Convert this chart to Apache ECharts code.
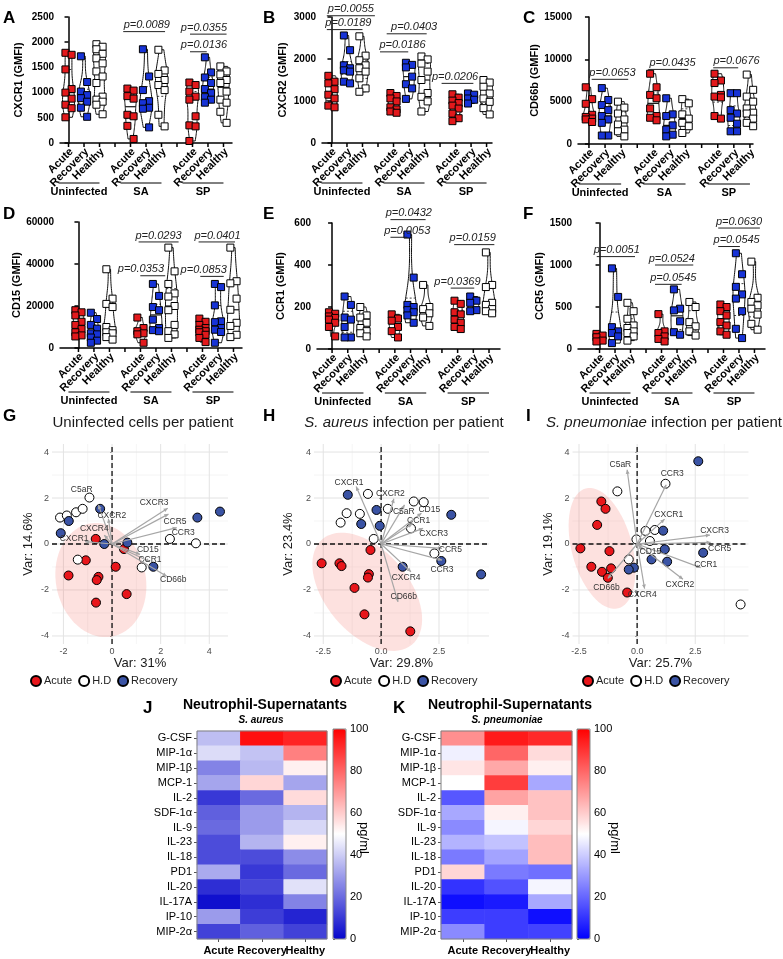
<!DOCTYPE html>
<html>
<head>
<meta charset="utf-8">
<script src="https://cdn.jsdelivr.net/npm/echarts@6/dist/echarts.min.js"></script>
<style>
  html, body { margin: 0; padding: 0; background: #fff; }
  #chart { width: 783px; height: 959px; }
</style>
</head>
<body>
<div id="chart"></div>
<script>
// ---- violin panels: [acute, recovery, healthy] per condition ----
const catLabels = ['Acute', 'Recovery', 'Healthy', '', 'Acute', 'Recovery', 'Healthy', '', 'Acute', 'Recovery', 'Healthy']
const conditionNames = ['Uninfected', 'SA', 'SP']

const cxcr1Uninfected = [[1790, 1750, 1460, 1070, 1000, 880, 760, 690, 510], [1720, 1210, 1020, 950, 890, 820, 700, 520], [1960, 1910, 1860, 1770, 1680, 1580, 1420, 1320, 1190, 920, 860, 820, 760, 570]]
const cxcr1SA = [[1080, 1040, 930, 880, 560, 530, 340, 80], [1860, 1320, 1050, 830, 790, 700, 680, 310], [1850, 1440, 1370, 1250, 1150, 1050, 560, 330]]
const cxcr1SP = [[1200, 1150, 1020, 920, 860, 530, 350, 330, 40], [1700, 1400, 1300, 1190, 1070, 990, 910, 860, 800], [1520, 1420, 1360, 1250, 1190, 1020, 860, 800, 620, 400]]
// [from, to, y, label, label centre] in category units
const cxcr1Pvals = [[3.53, 6.23, 2210, 'p=0.0089', 5.05], [7.84, 10.2, 2160, 'p=0.0355', 8.74], [7.84, 8.92, 1810, 'p=0.0136', 8.74]]

const cxcr2Uninfected = [[1600, 1460, 1420, 1280, 1150, 1060, 890, 850], [2560, 2210, 1850, 1780, 1730, 1700, 1460, 1420], [2540, 2080, 1970, 1850, 1780, 1700, 1540, 1300, 1220]]
const cxcr2SA = [[1190, 1120, 1060, 990, 850, 800, 750, 720], [1910, 1860, 1800, 1580, 1400, 1300, 1050], [2060, 1990, 1890, 1700, 1500, 1190, 1100, 990, 750]]
const cxcr2SP = [[1160, 1080, 1010, 950, 890, 820, 700, 590, 520], [1180, 1150, 1060, 1030, 940], [1500, 1440, 1340, 1180, 1060, 980, 830, 680]]
const cxcr2Pvals = [[-0.3, 2.8, 3030, 'p=0.0055', 1.25], [-0.3, 2.0, 2700, 'p=0.0189', 1.09], [3.56, 6.14, 2600, 'p=0.0403', 5.33], [3.13, 4.95, 2170, 'p=0.0186', 4.58], [7.1, 9.15, 1420, 'p=0.0206', 7.97]]

const cd66bUninfected = [[6700, 5300, 4750, 3450, 3200, 3000, 2900, 2600], [6600, 5200, 4600, 4000, 3300, 2900, 2500, 1000, 1000], [5000, 4300, 3600, 2900, 2300, 1700, 1500, 900]]
const cd66bSA = [[8300, 6700, 5800, 5400, 4200, 3300, 3100, 2800], [5400, 3500, 3300, 2200, 1700, 1100, 900], [5300, 4800, 3500, 3000, 2500, 2100, 1300]]
const cd66bSP = [[8300, 7500, 7200, 5800, 5600, 5500, 3300, 3000], [6000, 6000, 4000, 3600, 3100, 2400, 1500, 1500], [8200, 6400, 5600, 5000, 4200, 3700, 3600, 3000, 2500, 2100]]
const cd66bPvals = [[0.17, 2.44, 7640, 'p=0.0653', 1.46], [3.68, 6.17, 8810, 'p=0.0435', 5.19], [7.72, 9.27, 9000, 'p=0.0676', 9.17]]

const cd15Uninfected = [[18000, 17000, 15500, 12500, 11000, 9000, 7500, 6000, 5500], [16800, 13800, 11000, 9200, 7000, 6500, 5000, 3500, 2500], [37500, 23500, 21000, 19500, 10000, 8500, 7500, 7000, 5200, 4000]]
const cd15SA = [[14500, 9500, 8000, 7000, 6500, 2500], [30500, 24800, 19500, 18000, 13500, 9500, 8500, 8000], [47800, 36500, 30500, 26000, 24500, 20000, 18000, 11000, 8000, 6500, 4800]]
const cd15SP = [[14000, 12500, 11000, 9500, 8700, 8000, 7500, 6300, 4800, 2800], [30500, 29000, 20300, 12700, 12300, 9500, 8700, 7600, 2500], [47800, 31800, 30800, 23500, 18200, 12000, 10500, 6300, 5200]]
const cd15Pvals = [[3.88, 6.46, 50500, 'p=0.0293', 5.17], [3.99, 5.6, 34400, 'p=0.0353', 4.03], [7.75, 10.1, 50500, 'p=0.0401', 8.97], [7.86, 9.37, 34100, 'p=0.0853', 8.08]]

const ccr1Uninfected = [[175, 168, 155, 148, 140, 125, 105, 60], [250, 210, 150, 140, 105, 55, 55], [200, 160, 150, 125, 100, 85, 75, 60]]
const ccr1SA = [[165, 145, 135, 105, 85, 55], [545, 340, 210, 200, 185, 175, 160, 125], [305, 200, 190, 170, 150, 110]]
const ccr1SP = [[230, 215, 175, 165, 140, 125, 105, 95], [250, 230, 220, 185, 180], [460, 305, 295, 220, 210, 190, 180, 170]]
const ccr1Pvals = [[3.72, 5.96, 616, 'p=0.0432', 4.89], [3.72, 4.79, 532, 'p=0.0053', 4.79], [7.78, 10.34, 497, 'p=0.0159', 8.96], [7.56, 9.06, 290, 'p=0.0369', 7.99]]

const ccr5Uninfected = [[180, 160, 140, 100, 90], [960, 620, 260, 210, 190, 150, 70], [550, 450, 360, 280, 250, 210, 190, 150, 100]]
const ccr5SA = [[415, 210, 190, 150, 120, 90], [710, 480, 460, 330, 200, 170], [560, 500, 320, 270, 210, 160]]
const ccr5SP = [[530, 500, 450, 400, 320, 280, 210, 170], [1140, 890, 740, 650, 600, 450, 240, 130], [1040, 610, 560, 520, 480, 410, 300, 230]]
const ccr5Pvals = [[-0.18, 2.29, 1100, 'p=0.0051', 1.11], [3.58, 6.05, 1000, 'p=0.0524', 4.66], [3.58, 5.3, 770, 'p=0.0545', 4.76], [7.66, 10.35, 1440, 'p=0.0630', 9.0], [7.66, 9.06, 1220, 'p=0.0545', 8.85]]

// ---- PCA biplots ----
const gAcute = [[-0.67, 0.22], [0.49, -0.22], [-1.08, -0.71], [0.15, -0.99], [-1.79, -1.37], [-0.56, -1.43], [-0.63, -1.57], [0.60, -2.18], [-0.66, -2.55]]
const gHD = [[-0.93, 2.02], [-2.14, 1.15], [-1.86, 1.24], [-1.48, 1.38], [-1.21, 1.53], [-1.41, -0.68], [2.38, 0.22], [3.45, 0.03], [1.22, -1.02]]
const gRecovery = [[-0.49, 1.53], [-1.78, 1.0], [-2.11, 0.47], [-0.32, 0.0], [0.63, 0.06], [1.70, -0.99], [3.51, 1.15], [4.44, 1.41]]
const gLoadings = [['C5aR', -0.56, 1.70, -1.25, 2.36], ['CXCR2', -0.15, 1.10, -0.01, 1.24], ['CXCR3', 2.29, 1.56, 1.73, 1.78], ['CCR5', 2.32, 1.30, 2.59, 0.98], ['CCR3', 2.66, 0.71, 2.93, 0.51], ['CXCR4', -0.32, 0.39, -0.73, 0.68], ['CXCR1', -1.11, 0.10, -1.56, 0.22], ['CD15', 1.15, -0.45, 1.47, -0.26], ['CCR1', 1.56, -0.77, 1.56, -0.67], ['CD66b', 2.25, -1.40, 2.52, -1.57]]
const gEllipse = [-0.46, -1.57, 2.5, 1.85, -80]

const hAcute = [[-0.46, -0.26], [-2.57, -0.84], [-1.80, -0.84], [-1.71, -0.96], [-0.53, -1.31], [-0.57, -1.46], [-1.15, -1.91], [-0.72, -3.06], [1.26, -3.80]]
const hHD = [[-0.57, 2.18], [0.29, 1.53], [1.41, 1.85], [1.84, 1.82], [-1.49, 1.34], [-0.92, 1.31], [-1.75, 0.93], [-0.32, 0.22], [1.29, 0.68], [2.30, -0.41]]
const hRecovery = [[-1.44, 2.14], [-0.20, 1.48], [-0.86, 0.87], [-0.06, 0.79], [0.93, -0.99], [2.60, -0.74], [3.03, 1.27], [4.32, -1.32]]
const hLoadings = [['CXCR1', -1.08, 2.50, -1.39, 2.65], ['CXCR2', 0.55, 1.97, 0.40, 2.17], ['C5aR', 1.01, 1.70, 0.98, 1.41], ['CD15', 1.74, 1.34, 2.08, 1.51], ['CCR1', 1.34, 0.87, 1.62, 1.0], ['CXCR3', 1.81, 0.68, 2.27, 0.47], ['CCR5', 2.63, -0.19, 2.99, -0.26], ['CCR3', 2.63, -0.70, 2.63, -1.11], ['CXCR4', 1.29, -1.21, 1.08, -1.47], ['CD66b', 0.73, -2.52, 0.98, -2.30]]
const hEllipse = [-0.6, -2.08, 3.0, 1.8, -50]

const iAcute = [[-1.54, 1.85], [-1.36, 1.53], [-1.72, 0.83], [-2.44, -0.19], [-1.19, -0.31], [-1.97, -0.99], [-1.51, -1.21], [-1.12, -1.06], [-1.26, -1.47], [-0.43, -2.11]]
const iHD = [[1.22, 2.62], [-0.85, 2.29], [0.36, 0.57], [0.76, 0.61], [-0.03, 0.20], [0.55, 0.13], [-0.36, -0.67], [4.45, -2.63]]
const iRecovery = [[2.63, 3.60], [1.12, 0.58], [1.19, -0.23], [2.84, -0.38], [0.62, -0.67], [1.29, -0.77], [-0.14, -1.03], [-0.36, -1.11]]
const iLoadings = [['C5aR', -0.43, 3.23, -0.72, 3.45], ['CCR3', 1.25, 2.58, 1.51, 3.07], ['CXCR1', 1.18, 1.08, 1.36, 1.27], ['CXCR3', 3.13, 0.39, 3.33, 0.57], ['CCR5', 3.16, 0.07, 3.55, -0.22], ['CCR1', 2.73, -1.03, 2.95, -0.89], ['CXCR2', 1.97, -1.53, 1.84, -1.79], ['CXCR4', 0.32, -1.94, 0.22, -2.20], ['CD66b', -1.26, -1.50, -1.32, -1.89], ['CD15', 0.22, -0.26, 0.57, -0.33]]
const iEllipse = [-1.51, -0.19, 2.7, 1.3, -75]

// ---- heatmaps (pg/ml) ----
const cytokines = ['G-CSF', 'MIP-1α', 'MIP-1β', 'MCP-1', 'IL-2', 'SDF-1α', 'IL-9', 'IL-23', 'IL-18', 'PD1', 'IL-20', 'IL-17A', 'IP-10', 'MIP-2α']
const heatGroups = ['Acute', 'Recovery', 'Healthy']
const saSupernatant = [[37, 97, 93], [43, 38, 75], [25, 36, 53], [32, 58, 32], [10, 20, 57], [18, 30, 35], [20, 30, 42], [14, 35, 53], [14, 14, 27], [33, 10, 20], [8, 13, 44], [2, 8, 25], [30, 11, 6], [12, 18, 12]]
const spSupernatant = [[72, 95, 92], [47, 80, 57], [55, 67, 53], [50, 88, 33], [17, 68, 62], [33, 53, 62], [27, 48, 58], [35, 38, 63], [24, 32, 63], [58, 24, 22], [10, 16, 48], [3, 5, 33], [12, 12, 3], [27, 12, 13]]

const FONT = 'Arial, "Liberation Sans", Helvetica, sans-serif'
const groupColors = ['#e3191c', '#1733d6', '#ffffff']
const pcaColors = { acute: '#e8161b', hd: '#ffffff', rec: '#3a53a4' }

const option = {
  animation: false,
  backgroundColor: '#fff',
  textStyle: { fontFamily: FONT },
  grid: [], xAxis: [], yAxis: [], series: [], legend: [], visualMap: [], graphic: [],
}

function tstyle(text, font, align, valign, fill) {
  return { text, font, align, verticalAlign: valign, textAlign: align, textVerticalAlign: valign, fill: fill || '#000' }
}

function addText(text, x, y, font, opts) {
  const o = opts || {}
  option.graphic.push({
    type: 'text', x, y, rotation: o.rotation || 0, silent: true, z: 100,
    style: Object.assign(tstyle(text, font, o.align || 'center', o.valign || 'middle', o.fill), o.rich ? { rich: o.rich } : {}),
  })
}

function makeDensity(vals) {
  const n = vals.length
  const mean = vals.reduce((a, b) => a + b, 0) / n
  const sd = Math.sqrt(vals.reduce((a, b) => a + (b - mean) * (b - mean), 0) / (n - 1)) || 1
  const bw = 0.9 * sd * Math.pow(n, -0.2)
  const raw = v => vals.reduce((s, x) => s + Math.exp(-0.5 * ((v - x) / bw) ** 2), 0)
  const lo = Math.min(...vals), hi = Math.max(...vals)
  let peak = 0
  for (let k = 0; k <= 60; k++) peak = Math.max(peak, raw(lo + (hi - lo) * k / 60))
  return { lo, hi, f: v => raw(v) / peak }
}

function quartiles(vals) {
  const s = [...vals].sort((a, b) => a - b)
  const q = p => {
    const idx = (s.length - 1) * p, i = Math.floor(idx), f = idx - i
    return s[i] + (s[Math.min(i + 1, s.length - 1)] - s[i]) * f
  }
  return [q(0.25), q(0.5), q(0.75)]
}

// ---------------- violin + scatter panels ----------------
function addViolinPanel(p) {
  const gi = option.grid.length
  const ax = { xAxisIndex: gi, yAxisIndex: gi }
  option.grid.push({ left: p.left, top: p.top, width: p.width, height: p.height })
  option.xAxis.push({
    gridIndex: gi, type: 'value', min: p.xMin, max: p.xMax,
    axisLine: { show: true, onZero: false, lineStyle: { color: '#000', width: 1.5 } },
    axisTick: { show: false }, axisLabel: { show: false }, splitLine: { show: false },
  })
  option.yAxis.push({
    gridIndex: gi, type: 'value', min: 0, max: p.yMax, interval: p.yStep,
    name: p.yName, nameLocation: 'middle', nameGap: p.nameGap,
    nameTextStyle: { fontWeight: 'bold', fontSize: 11, color: '#000' },
    axisLine: { show: true, lineStyle: { color: '#000', width: 1.5 } },
    axisTick: { show: true, length: 4, lineStyle: { color: '#000', width: 1.5 } },
    axisLabel: { fontWeight: 'bold', fontSize: 10, color: '#000', margin: 6, formatter: v => String(v) },
    splitLine: { show: false },
  })

  const groups = []
  p.sets.forEach((set, c) => set.forEach((vals, g) => groups.push({ x: c * 4 + g, vals })))

  // violins
  option.series.push(Object.assign({
    type: 'custom', clip: false, silent: true, z: 2,
    data: groups.map(g => [g.x, quartiles(g.vals)[1]]),
    renderItem: (params, api) => {
      const g = groups[params.dataIndex]
      const dens = makeDensity(g.vals)
      const W = 6, N = 40
      const right = [], left = []
      for (let k = 0; k <= N; k++) {
        const v = dens.lo + (dens.hi - dens.lo) * k / N
        const c = api.coord([g.x, v])
        const w = Math.max(0.6, W * dens.f(v))
        right.push([c[0] + w, c[1]])
        left.unshift([c[0] - w, c[1]])
      }
      const children = [{ type: 'polygon', shape: { points: right.concat(left) }, style: { fill: 'rgba(255,255,255,0)', stroke: '#111', lineWidth: 1 } }]
      quartiles(g.vals).forEach((q, k) => {
        const c = api.coord([g.x, q])
        const w = W * dens.f(q)
        children.push({ type: 'line', shape: { x1: c[0] - w, y1: c[1], x2: c[0] + w, y2: c[1] }, style: k === 1 ? { stroke: '#111', lineWidth: 1.2 } : { stroke: '#111', lineWidth: 0.8, lineDash: [2, 2] } })
      })
      return { type: 'group', children }
    },
  }, ax))

  // points
  ;[0, 1, 2].forEach(g => {
    const data = []
    p.sets.forEach((set, c) => {
      const vals = [...set[g]].sort((a, b) => b - a)
      vals.forEach((v, i) => data.push([c * 4 + g + (i % 2 ? 0.2 : -0.2), v]))
    })
    option.series.push(Object.assign({
      type: 'scatter', symbol: 'rect', symbolSize: 7, silent: true, z: 3, clip: false, data,
      itemStyle: { color: groupColors[g], borderColor: '#000', borderWidth: 1, opacity: 1 },
    }, ax))
  })

  // category ticks + rotated labels
  option.series.push(Object.assign({
    type: 'custom', clip: false, silent: true, z: 4,
    data: catLabels.map((_, i) => [i, 0]),
    renderItem: (params, api) => {
      const i = params.dataIndex
      const c = api.coord([i, 0])
      const ch = [{ type: 'line', shape: { x1: c[0], y1: c[1], x2: c[0], y2: c[1] + 4 }, style: { stroke: '#000', lineWidth: 1.5 } }]
      if (catLabels[i]) {
        ch.push({ type: 'text', x: c[0] + 3, y: c[1] + 7, rotation: Math.PI / 4, style: tstyle(catLabels[i], 'bold 11px ' + FONT, 'right', 'middle') })
      }
      return { type: 'group', children: ch }
    },
  }, ax))

  // condition underline + name
  option.series.push(Object.assign({
    type: 'custom', clip: false, silent: true, z: 4,
    data: conditionNames.map((_, k) => [k * 4, 0]),
    renderItem: (params, api) => {
      const k = params.dataIndex
      const a = api.coord([k * 4, 0]), b = api.coord([k * 4 + 2, 0])
      const x1 = a[0] - 10, x2 = b[0]
      return {
        type: 'group', children: [
          { type: 'line', shape: { x1, y1: a[1] + p.lineDy, x2, y2: a[1] + p.lineDy }, style: { stroke: '#000', lineWidth: 1 } },
          { type: 'text', x: (x1 + x2) / 2, y: a[1] + p.textDy, style: tstyle(conditionNames[k], 'bold 11px ' + FONT, 'center', 'middle') },
        ],
      }
    },
  }, ax))

  // significance brackets
  option.series.push(Object.assign({
    type: 'custom', clip: false, silent: true, z: 4,
    data: p.pvals.map(r => [r[0], r[2]]),
    renderItem: (params, api) => {
      const r = p.pvals[params.dataIndex]
      const a = api.coord([r[0], r[2]]), b = api.coord([r[1], r[2]]), t = api.coord([r[4], r[2]])
      return {
        type: 'group', children: [
          { type: 'line', shape: { x1: a[0], y1: a[1], x2: b[0], y2: b[1] }, style: { stroke: '#222', lineWidth: 1 } },
          { type: 'text', x: t[0], y: a[1] - 1, style: tstyle(r[3], 'italic 11px ' + FONT, 'center', 'bottom', '#222') },
        ],
      }
    },
  }, ax))

  addText(p.letter, p.lx, p.ly, 'bold 17px ' + FONT, { align: 'left' })
}

const violinPanels = [
  { letter: 'A', sets: [cxcr1Uninfected, cxcr1SA, cxcr1SP], pvals: cxcr1Pvals, yName: 'CXCR1 (GMFI)', yMax: 2500, yStep: 500, left: 60, top: 17, width: 172, height: 126, xMin: -0.55, xMax: 10.55, nameGap: 36, lineDy: 40, textDy: 49, lx: 3, ly: 18 },
  { letter: 'B', sets: [cxcr2Uninfected, cxcr2SA, cxcr2SP], pvals: cxcr2Pvals, yName: 'CXCR2 (GMFI)', yMax: 3000, yStep: 1000, left: 322, top: 17, width: 170, height: 126, xMin: -0.61, xMax: 10.35, nameGap: 34, lineDy: 40, textDy: 49, lx: 263, ly: 18 },
  { letter: 'C', sets: [cd66bUninfected, cd66bSA, cd66bSP], pvals: cd66bPvals, yName: 'CD66b (GMFI)', yMax: 15000, yStep: 5000, left: 578, top: 17, width: 175, height: 127, xMin: -0.68, xMax: 10.19, nameGap: 32, lineDy: 40, textDy: 49, lx: 523, ly: 18 },
  { letter: 'D', sets: [cd15Uninfected, cd15SA, cd15SP], pvals: cd15Pvals, yName: 'CD15 (GMFI)', yMax: 60000, yStep: 20000, left: 60, top: 222, width: 182, height: 126, xMin: -1.19, xMax: 10.55, nameGap: 35, lineDy: 44, textDy: 53, lx: 3, ly: 214 },
  { letter: 'E', sets: [ccr1Uninfected, ccr1SA, ccr1SP], pvals: ccr1Pvals, yName: 'CCR1 (GMFI)', yMax: 600, yStep: 200, left: 317, top: 223, width: 183, height: 126, xMin: -0.96, xMax: 10.7, nameGap: 31, lineDy: 44, textDy: 53, lx: 263, ly: 214 },
  { letter: 'F', sets: [ccr5Uninfected, ccr5SA, ccr5SP], pvals: ccr5Pvals, yName: 'CCR5 (GMFI)', yMax: 1500, yStep: 500, left: 578, top: 223, width: 187, height: 126, xMin: -1.39, xMax: 10.68, nameGap: 32, lineDy: 44, textDy: 53, lx: 523, ly: 214 },
]
violinPanels.forEach(addViolinPanel)

// ---------------- PCA biplots ----------------
const pcaY = { min: -4.35, max: 4.35, ticks: [-4, -2, 0, 2, 4], minor: [-3, -1, 1, 3] }

function addPcaPanel(p) {
  const gi = option.grid.length
  const ax = { xAxisIndex: gi, yAxisIndex: gi }
  option.grid.push({ left: p.left, top: 444, width: p.width, height: 200 })
  option.xAxis.push({
    gridIndex: gi, type: 'value', min: p.xMin, max: p.xMax,
    name: p.xName, nameLocation: 'middle', nameGap: 13, nameTextStyle: { fontSize: 13, color: '#1a1a1a' },
    axisLine: { show: false },
    axisTick: { show: true, length: 2, customValues: p.xTicks, lineStyle: { color: '#444' } },
    axisLabel: { customValues: p.xTicks, formatter: p.xFmt, fontSize: 9, color: '#4d4d4d', margin: 3 },
    splitLine: { show: false },
  })
  option.yAxis.push({
    gridIndex: gi, type: 'value', min: pcaY.min, max: pcaY.max,
    name: p.yName, nameLocation: 'middle', nameGap: p.yNameGap, nameTextStyle: { fontSize: 13, color: '#1a1a1a' },
    axisLine: { show: false },
    axisTick: { show: true, length: 2, customValues: pcaY.ticks, lineStyle: { color: '#444' } },
    axisLabel: { customValues: pcaY.ticks, fontSize: 9, color: '#4d4d4d', margin: 3 },
    splitLine: { show: false },
  })

  // grid lines, ellipse, zero lines
  option.series.push(Object.assign({
    type: 'custom', clip: false, silent: true, z: 1, data: [[0, 0]],
    renderItem: (params, api) => {
      const ch = []
      const vline = (v, stroke, w, dash) => {
        const a = api.coord([v, pcaY.min]), b = api.coord([v, pcaY.max])
        ch.push({ type: 'line', shape: { x1: a[0], y1: a[1], x2: b[0], y2: b[1] }, style: Object.assign({ stroke, lineWidth: w }, dash ? { lineDash: dash } : {}) })
      }
      const hline = (v, stroke, w, dash) => {
        const a = api.coord([p.xMin, v]), b = api.coord([p.xMax, v])
        ch.push({ type: 'line', shape: { x1: a[0], y1: a[1], x2: b[0], y2: b[1] }, style: Object.assign({ stroke, lineWidth: w }, dash ? { lineDash: dash } : {}) })
      }
      p.xMinor.forEach(v => vline(v, '#f1f1f1', 0.7))
      pcaY.minor.forEach(v => hline(v, '#f1f1f1', 0.7))
      p.xTicks.forEach(v => vline(v, '#e3e3e3', 1))
      pcaY.ticks.forEach(v => hline(v, '#e3e3e3', 1))
      const [cx, cy, ea, eb, deg] = p.ellipse
      const th = deg * Math.PI / 180
      const pts = []
      for (let k = 0; k < 72; k++) {
        const t = k / 72 * Math.PI * 2
        const dx = ea * Math.cos(t), dy = eb * Math.sin(t)
        pts.push(api.coord([cx + dx * Math.cos(th) - dy * Math.sin(th), cy + dx * Math.sin(th) + dy * Math.cos(th)]))
      }
      ch.push({ type: 'polygon', shape: { points: pts }, style: { fill: 'rgba(248,118,109,0.22)', stroke: 'none' } })
      vline(0, '#111', 1.3, [5, 3])
      hline(0, '#111', 1.3, [5, 3])
      return { type: 'group', children: ch }
    },
  }, ax))

  // loadings
  option.series.push(Object.assign({
    type: 'custom', clip: false, silent: true, z: 3,
    data: p.loadings.map(r => [r[1], r[2]]),
    renderItem: (params, api) => {
      const r = p.loadings[params.dataIndex]
      const o = api.coord([0, 0]), t = api.coord([r[1], r[2]]), l = api.coord([r[3], r[4]])
      const ang = Math.atan2(t[1] - o[1], t[0] - o[0])
      const h = 4.5, s = 0.45
      const head = [
        [t[0], t[1]],
        [t[0] - h * Math.cos(ang - s), t[1] - h * Math.sin(ang - s)],
        [t[0] - h * Math.cos(ang + s), t[1] - h * Math.sin(ang + s)],
      ]
      return {
        type: 'group', children: [
          { type: 'line', shape: { x1: o[0], y1: o[1], x2: t[0], y2: t[1] }, style: { stroke: '#a6a6a6', lineWidth: 1.2 } },
          { type: 'polygon', shape: { points: head }, style: { fill: '#a6a6a6' } },
          { type: 'text', x: l[0], y: l[1], style: tstyle(r[0], '8.5px ' + FONT, 'center', 'middle', '#333') },
        ],
      }
    },
  }, ax))

  const pts = [['Acute', p.acute, pcaColors.acute], ['H.D', p.hd, pcaColors.hd], ['Recovery', p.rec, pcaColors.rec]]
  pts.forEach(([name, data, color]) => {
    option.series.push(Object.assign({
      type: 'scatter', name, data, symbol: 'circle', symbolSize: 9, silent: true, z: 2, clip: false,
      itemStyle: { color, borderColor: '#000', borderWidth: 1, opacity: 1 },
    }, ax))
  })

  option.legend.push({
    left: p.legendLeft, top: 675, padding: 0, itemWidth: 10, itemHeight: 10, itemGap: 6, selectedMode: false,
    textStyle: { fontSize: 11, color: '#222', padding: [0, 0, 0, -2] },
    data: [{ name: 'Acute', icon: 'circle' }, { name: 'H.D', icon: 'circle' }, { name: 'Recovery', icon: 'circle' }],
  })

  addText(p.title, p.titleX, 423, '15px ' + FONT, { fill: '#1a1a1a', rich: p.rich })
  addText(p.letter, p.lx, 416, 'bold 17px ' + FONT, { align: 'left' })
}

const italicRich = { i: { fontStyle: 'italic', fontSize: 15, fontFamily: FONT, fill: '#1a1a1a' }, n: { fontSize: 15, fontFamily: FONT, fill: '#1a1a1a' } }
const pcaPanels = [
  { letter: 'G', lx: 3, title: 'Uninfected cells per patient', titleX: 143, left: 52, width: 176, xMin: -2.47, xMax: 4.77, xTicks: [-2, 0, 2, 4], xMinor: [-1, 1, 3], xFmt: v => String(v), xName: 'Var: 31%', yName: 'Var: 14.6%', yNameGap: 17, acute: gAcute, hd: gHD, rec: gRecovery, loadings: gLoadings, ellipse: gEllipse, legendLeft: 30 },
  { letter: 'H', lx: 263, title: '{i|S. aureus}{n| infection per patient}', rich: italicRich, titleX: 404, left: 314, width: 175, xMin: -2.9, xMax: 4.66, xTicks: [-2.5, 0, 2.5], xMinor: [-1.25, 1.25, 3.75], xFmt: v => v.toFixed(1), xName: 'Var: 29.8%', yName: 'Var: 23.4%', yNameGap: 19, acute: hAcute, hd: hHD, rec: hRecovery, loadings: hLoadings, ellipse: hEllipse, legendLeft: 330 },
  { letter: 'I', lx: 526, title: '{i|S. pneumoniae}{n| infection per patient}', rich: italicRich, titleX: 664, left: 572.5, width: 176, xMin: -2.78, xMax: 4.79, xTicks: [-2.5, 0, 2.5], xMinor: [-1.25, 1.25, 3.75], xFmt: v => v.toFixed(1), xName: 'Var: 25.7%', yName: 'Var: 19.1%', yNameGap: 18, acute: iAcute, hd: iHD, rec: iRecovery, loadings: iLoadings, ellipse: iEllipse, legendLeft: 582 },
]
pcaPanels.forEach(addPcaPanel)

// ---------------- heatmaps ----------------
function addHeatmap(p) {
  const gi = option.grid.length
  option.grid.push({ left: p.left, top: 731, width: p.width, height: 208, show: true, borderColor: '#808080', borderWidth: 1, backgroundColor: 'transparent', z: 3 })
  option.xAxis.push({
    gridIndex: gi, type: 'category', data: heatGroups,
    axisLine: { show: false },
    axisTick: { show: true, alignWithLabel: true, length: 3, lineStyle: { color: '#555' } },
    axisLabel: { interval: 0, fontWeight: 'bold', fontSize: 11, color: '#000', margin: 6 },
    splitLine: { show: false },
  })
  option.yAxis.push({
    gridIndex: gi, type: 'category', inverse: true, data: cytokines,
    axisLine: { show: false },
    axisTick: { show: true, alignWithLabel: true, length: 3, lineStyle: { color: '#555' } },
    axisLabel: { interval: 0, fontSize: 11, color: '#000', margin: 5 },
    splitLine: { show: false },
  })
  const si = option.series.length
  const data = []
  p.values.forEach((row, r) => row.forEach((v, c) => data.push([c, r, v])))
  option.series.push({ type: 'heatmap', xAxisIndex: gi, yAxisIndex: gi, data, silent: true })
  option.visualMap.push({
    type: 'continuous', seriesIndex: si, min: 0, max: 100, calculable: false, orient: 'vertical',
    left: p.barLeft, top: 729, itemWidth: 13, itemHeight: 210, padding: 0,
    inRange: { color: p.colors },
  })
  const ci = option.grid.length
  option.grid.push({ left: p.barLeft, top: 729, width: 13, height: 210, show: true, borderColor: '#888', borderWidth: 1, backgroundColor: 'transparent', z: 5 })
  option.xAxis.push({ gridIndex: ci, type: 'value', show: false, min: 0, max: 1 })
  option.yAxis.push({
    gridIndex: ci, type: 'value', position: 'right', min: 0, max: 100, interval: 20,
    axisLine: { show: false },
    axisTick: { show: true, length: 2, lineStyle: { color: '#555' } },
    axisLabel: { fontSize: 11, color: '#000', margin: 4 },
    splitLine: { show: false },
  })
  option.series.push({ type: 'line', xAxisIndex: ci, yAxisIndex: ci, data: [], silent: true })

  addText('Neutrophil-Supernatants', p.titleX, 705, 'bold 14px ' + FONT)
  addText(p.sub, p.subX, 720, 'italic bold 10px ' + FONT)
  addText('pg/ml', p.unitX, 838, '13px ' + FONT, { rotation: -Math.PI / 2 })
  addText(p.letter, p.lx, 708, 'bold 17px ' + FONT, { align: 'left' })
}

addHeatmap({ letter: 'J', lx: 143, values: saSupernatant, left: 197, width: 130, barLeft: 333, colors: ['#0606cc', '#ffffff', '#ff0000'], titleX: 265, sub: 'S. aureus', subX: 261, unitX: 364 })
addHeatmap({ letter: 'K', lx: 393, values: spSupernatant, left: 441, width: 131, barLeft: 577, colors: ['#0000ff', '#ffffff', '#ff0000'], titleX: 510, sub: 'S. pneumoniae', subX: 507, unitX: 615 })

const chart = echarts.init(document.getElementById('chart'), null, { renderer: 'canvas' })
chart.setOption(option)
</script>
</body>
</html>
